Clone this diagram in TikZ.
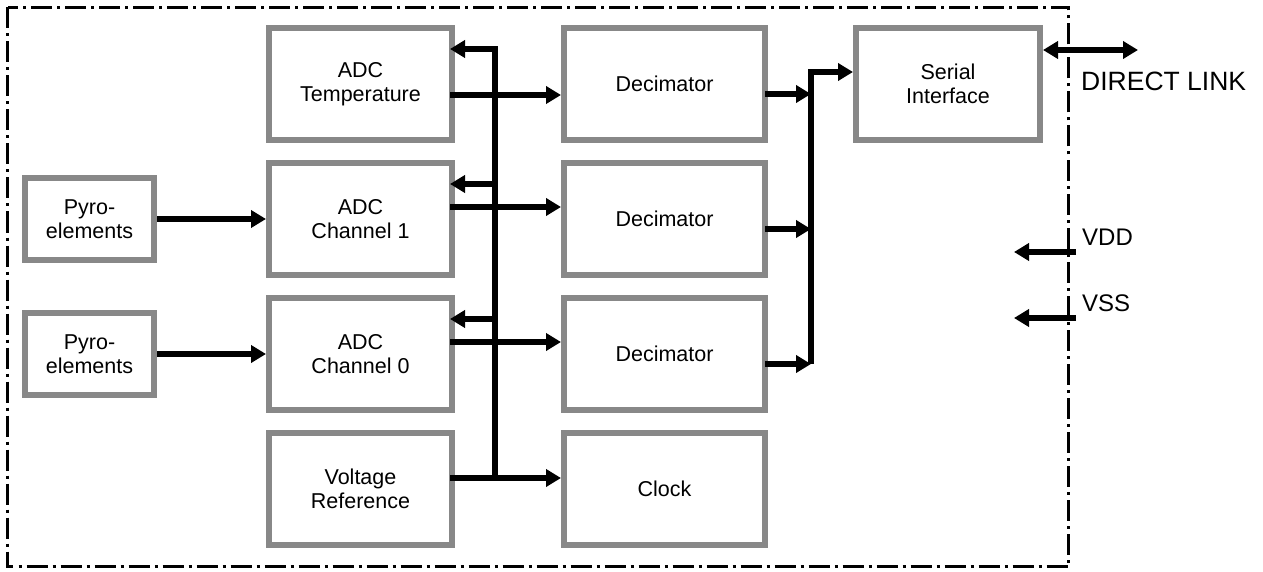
\documentclass[tikz,border=0pt]{standalone}
\usepackage{fontspec}
\setmainfont{Liberation Sans}
\usetikzlibrary{arrows.meta,calc}
\definecolor{boxgray}{RGB}{136,136,136}
\begin{document}
\begin{tikzpicture}[x=1pt,y=-1pt,
  blk/.style={draw=boxgray, line width=6pt, fill=white, inner sep=0pt, align=center,
              font=\fontsize{21.5}{24}\selectfont},
  adcbox/.style={blk, minimum width=183pt, minimum height=112pt},
  decbox/.style={blk, minimum width=201pt, minimum height=112pt},
  serbox/.style={blk, minimum width=184pt, minimum height=112pt},
  pyrobox/.style={blk, minimum width=129pt, minimum height=82pt},
  conn/.style={line width=5.5pt},
  arr/.style={conn, -{Triangle[length=15pt,width=17pt]}},
  darr/.style={conn, {Triangle[length=15pt,width=17pt]}-{Triangle[length=15pt,width=17pt]}},
  frame/.style={line width=3pt, dash pattern=on 21pt off 5pt on 3pt off 5pt},
  lbl/.style={anchor=west, inner sep=0pt, font=\fontsize{24}{28}\selectfont},
  biglbl/.style={anchor=west, inner sep=0pt, font=\fontsize{26.5}{30}\selectfont}
]
\useasboundingbox (0,0) rectangle (1263,572);

% frame
\draw[frame] (7.5,7.5) rectangle (1068.5,566.5);

% blocks
\node[adcbox] (adct) at (360.5,84)  {ADC\\Temperature};
\node[adcbox] (adc1) at (360.5,219) {ADC\\Channel 1};
\node[adcbox] (adc0) at (360.5,354) {ADC\\Channel 0};
\node[adcbox] (vref) at (360.5,489) {Voltage\\Reference};

\node[decbox] (dec1) at (664.5,84)  {Decimator};
\node[decbox] (dec2) at (664.5,219) {Decimator};
\node[decbox] (dec3) at (664.5,354) {Decimator};
\node[decbox] (clk)  at (664.5,489) {Clock};

\node[serbox] (ser) at (948,84) {Serial\\Interface};

\node[pyrobox] (pyro1) at (89.5,219) {Pyro-\\elements};
\node[pyrobox] (pyro0) at (89.5,354) {Pyro-\\elements};

% pyro to ADC
\draw[arr] (pyro1.east) -- (adc1.west);
\draw[arr] (pyro0.east) -- (adc0.west);

% ADC outputs
\draw[arr] ($(adct.east)+(-5,11)$) -- ($(dec1.west)+(0,11)$);
\draw[arr] ($(adc1.east)+(-5,-12)$) -- ($(dec2.west)+(0,-12)$);
\draw[arr] ($(adc0.east)+(-5,-12)$) -- ($(dec3.west)+(0,-12)$);
\draw[arr] ($(vref.east)+(-5,-11)$) -- ($(clk.west)+(0,-11)$);

% reference bus
\coordinate (bt) at (495,49);
\coordinate (bb) at (495,478);
\coordinate (b1) at (495,184);
\coordinate (b0) at (495,319);
\draw[arr] (bb) -- (bt) -- ($(adct.east)+(-5,-35)$);
\draw[arr] (b1) -- ($(adc1.east)+(-5,-35)$);
\draw[arr] (b0) -- ($(adc0.east)+(-5,-35)$);

% decimator outputs
\coordinate (o1) at (811,94);
\coordinate (o2) at (811,229);
\coordinate (o3) at (811,364);
\coordinate (ot) at (811,72);
\draw[arr] ($(dec1.east)+(-3,10)$) -- (o1);
\draw[arr] ($(dec2.east)+(-3,10)$) -- (o2);
\draw[arr] ($(dec3.east)+(-3,10)$) -- (o3);
\draw[arr] (o3) -- (ot) -- ($(ser.west)+(0,-12)$);

% external connections
\coordinate (dl) at (1138,50);
\draw[darr] ($(ser.east)+(0,-34)$) -- (dl);
\node[biglbl] (dltxt) at (1081,81) {DIRECT LINK};

\coordinate (vddA) at (1076,252);
\coordinate (vddB) at (1014,252);
\draw[arr] (vddA) -- (vddB);
\node[lbl] (vddtxt) at (1082,237) {VDD};

\coordinate (vssA) at (1076,318);
\coordinate (vssB) at (1014,318);
\draw[arr] (vssA) -- (vssB);
\node[lbl] (vsstxt) at (1082,303) {VSS};
\end{tikzpicture}
\end{document}
